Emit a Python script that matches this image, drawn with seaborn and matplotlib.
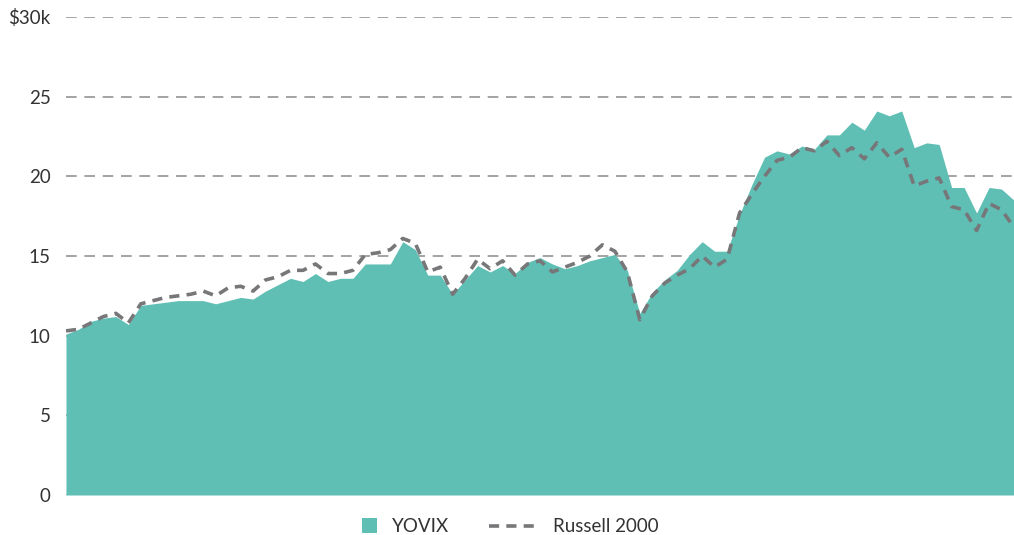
import numpy as np
import pandas as pd
import matplotlib
matplotlib.use("Agg")
import matplotlib.pyplot as plt
import seaborn as sns
from matplotlib.lines import Line2D
from matplotlib.patches import Rectangle, Patch
from matplotlib.legend_handler import HandlerPatch

# ---- data (values in $k, monthly) ----
yovix = [10.1, 10.4, 10.9, 11.1, 11.2, 10.7, 11.9, 12.0, 12.1, 12.2,
         12.2, 12.2, 12.0, 12.2, 12.4, 12.3, 12.8, 13.2, 13.6, 13.4,
         13.9, 13.4, 13.6, 13.6, 14.5, 14.5, 14.5, 15.9, 15.4, 13.8,
         13.8, 12.6, 13.5, 14.4, 14.0, 14.4, 13.9, 14.6, 14.9, 14.5,
         14.2, 14.4, 14.7, 14.9, 15.1, 14.1, 11.4, 12.7, 13.5, 14.1,
         15.1, 15.9, 15.3, 15.3, 17.6, 19.5, 21.2, 21.6, 21.4, 21.9,
         21.7, 22.6, 22.6, 23.4, 22.9, 24.1, 23.8, 24.1, 21.8, 22.1,
         22.0, 19.3, 19.3, 17.7, 19.3, 19.2, 18.5]
russell = [10.3, 10.4, 10.8, 11.2, 11.4, 10.8, 12.0, 12.2, 12.4, 12.5,
           12.6, 12.8, 12.5, 13.0, 13.1, 12.8, 13.5, 13.7, 14.1, 14.1,
           14.5, 13.9, 13.9, 14.1, 15.1, 15.2, 15.4, 16.1, 15.8, 14.0,
           14.3, 12.6, 13.6, 14.8, 14.2, 14.7, 13.8, 14.5, 14.7, 14.0,
           14.3, 14.6, 15.0, 15.7, 15.3, 14.0, 11.0, 12.5, 13.3, 13.8,
           14.2, 15.0, 14.3, 14.8, 17.7, 18.9, 20.0, 21.0, 21.2, 21.8,
           21.6, 22.2, 21.3, 21.8, 21.1, 22.1, 21.2, 21.7, 19.4, 19.7,
           19.9, 18.1, 17.9, 16.6, 18.3, 17.9, 16.8]
period = list(range(len(yovix)))
ytick_vals = [0, 5, 10, 15, 20, 25, 30]
ytick_labels = ["0", "5", "10", "15", "20", "25", "$30k"]
series_names = ["YOVIX", "Russell 2000"]

df = pd.DataFrame({"period": period, "YOVIX": yovix, "Russell 2000": russell})

TEAL = "#5fbfb4"
GRAY = "#77777a"
TEXT = "#333333"

sns.set_theme(style="white")
plt.rcParams["font.family"] = ["Lato", "DejaVu Sans"]

fig = plt.figure(figsize=(10.14, 5.35), dpi=100)
ax = fig.add_axes([66 / 1014, 40 / 535, 1 - 66 / 1014, (495 - 17) / 535])

ax.fill_between(df["period"], 0, df["YOVIX"], color=TEAL, linewidth=0, zorder=2)
sns.lineplot(data=df, x="period", y="Russell 2000", ax=ax, color=GRAY,
             linewidth=2.6, zorder=3)
ax.lines[-1].set_dashes([2.8, 2.0])

ax.set_xlim(df["period"].min(), df["period"].max())
ax.set_ylim(0, 30)
ax.set_yticks(ytick_vals)
ax.set_yticklabels(ytick_labels)
ax.set_xticks([])
ax.set_xlabel("")
ax.set_ylabel("")
ax.tick_params(axis="y", length=0, pad=11, labelsize=13.5, labelcolor=TEXT)
for s in ax.spines.values():
    s.set_visible(False)
ax.yaxis.grid(True, color="#8a8a8a", linestyle=(0, (7, 5)), linewidth=1.1, zorder=0)
ax.set_axisbelow(True)


class SquareHandler(HandlerPatch):
    def create_artists(self, legend, orig_handle, xdescent, ydescent,
                       width, height, fontsize, trans):
        size = 10.8
        r = Rectangle((width - size - xdescent, -ydescent + (height - size) / 2),
                      size, size, facecolor=TEAL, edgecolor="none",
                      transform=trans)
        return [r]


handles = [Patch(facecolor=TEAL, label=series_names[0]),
           Line2D([0], [0], color=GRAY, linewidth=2.6, dashes=[2.8, 2.0],
                  label=series_names[1])]
fs = 13.5
leg = fig.legend(handles=handles, loc="center left",
                 bbox_to_anchor=(328 / 1014, (535 - 527) / 535),
                 ncol=2, frameon=False, fontsize=fs, borderpad=0,
                 borderaxespad=0, handlelength=49 / 18.75, handletextpad=15 / 18.75,
                 columnspacing=40 / 18.75,
                 handler_map={Patch: SquareHandler()})
for t in leg.get_texts():
    t.set_color(TEXT)

fig.savefig("out.png", dpi=100)
